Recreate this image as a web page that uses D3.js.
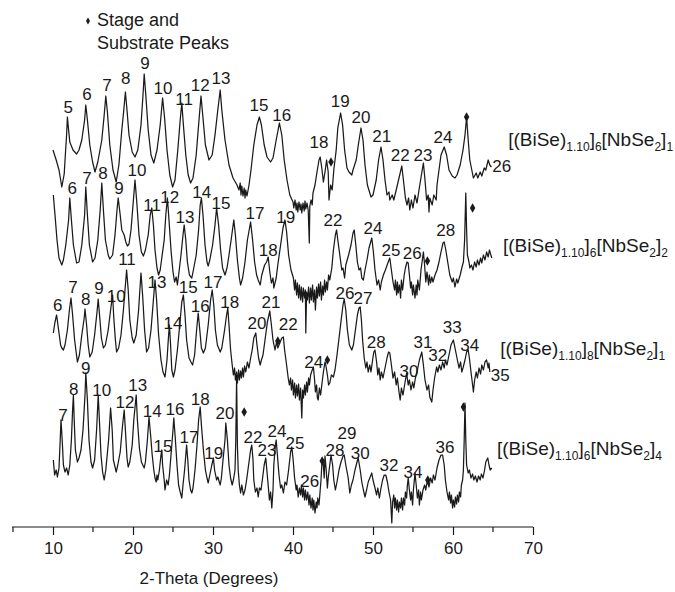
<!DOCTYPE html>
<html>
<head>
<meta charset="utf-8">
<script src="https://cdn.jsdelivr.net/npm/d3@7/dist/d3.min.js"></script>
<style>
  html, body { margin: 0; padding: 0; background: #fff; }
  svg { display: block; }
  text { font-family: "Liberation Sans", Arial, sans-serif; fill: #1a1a1a; }
</style>
</head>
<body>
<div id="chart"></div>
<script>
// X-ray diffraction scans of four (BiSe)1.10 / NbSe2 ferecrystals, stacked with offsets.
// Each scan is a list of [2-theta (deg), intensity (a.u.)] points.

const xTicksMajor = [10, 20, 30, 40, 50, 60, 70];
const xTicksMinor = [5, 15, 25, 35, 45, 55, 65];

// offsets (a.u.) used to stack the four scans
const scanOffsets = [135, 90, 50, 0];

// stacking numbers m and n in [(BiSe)1.10]m[NbSe2]n
const biseLayers = ["6", "6", "8", "6"];
const nbseLayers = ["1", "2", "1", "4"];

const scanA = [[10.0,50],[10.4,45],[10.75,40],[11.1,31.5],[11.4,38],[11.55,48],[11.7,57.5],[11.8,66.5],[11.95,60],[12.1,54],[12.5,50],[12.95,48],[13.25,50],[13.6,55],[13.95,65],[14.1,72.5],[14.3,65],[14.6,52.5],[14.95,44],[15.25,39],[15.6,44],[16.1,55],[16.4,67.5],[16.6,77],[16.8,69],[17.1,52.5],[17.5,40],[17.9,34],[18.25,43],[18.6,60],[18.85,70],[19.05,79],[19.25,70],[19.5,57.5],[19.9,49],[20.25,46.5],[20.6,50],[21.0,62.5],[21.25,77.5],[21.4,88],[21.6,77.5],[21.9,60],[22.25,47.5],[22.6,43.5],[23.0,50],[23.4,62.5],[23.7,76],[23.95,66],[24.25,50],[24.6,37.5],[24.95,31.5],[25.25,35],[25.6,50],[25.9,65],[26.1,73.5],[26.3,62.5],[26.6,47.5],[26.9,37.5],[27.2,33.5],[27.5,36],[27.9,47.5],[28.25,65],[28.5,77],[28.75,66],[29.05,52.5],[29.5,45],[29.9,47.5],[30.25,57.5],[30.6,70],[30.9,80],[31.1,70],[31.5,55],[32.0,42.5],[32.5,36],[33.0,32.5],[33.25,30],[33.4,33.5],[33.5,27.5],[33.6,32],[33.75,27],[33.9,31],[34.0,26],[34.1,30],[34.25,27],[34.5,32.5],[34.75,40],[35.1,52.5],[35.5,62.5],[35.8,66.5],[36.05,62.5],[36.4,52.5],[36.75,46.5],[37.2,44],[37.5,46],[37.9,55],[38.3,63.5],[38.6,57.5],[38.9,45],[39.25,35],[39.6,27.5],[40.0,24],[40.1,21],[40.25,25],[40.4,20],[40.5,23.5],[40.6,19],[40.75,24],[40.9,20],[41.0,23],[41.1,18.5],[41.25,23.5],[41.4,19.5],[41.5,24.5],[41.6,20.5],[41.75,23.5],[41.9,20],[42.04,3.5],[42.1,22],[42.25,25],[42.4,22.5],[42.5,28.5],[42.75,32.5],[43.0,39],[43.25,45],[43.4,46.5],[43.6,41],[43.8,34],[44.0,39],[44.2,45],[44.4,39],[44.5,25],[44.7,32.5],[44.9,30],[45.1,40],[45.4,50],[45.6,61],[45.95,68.5],[46.2,62.5],[46.45,50],[46.75,41],[47.0,39],[47.35,37.5],[47.5,40],[47.9,45],[48.2,53.5],[48.5,61],[48.75,55],[49.0,42.5],[49.3,32.5],[49.75,26.5],[50.0,27.5],[50.4,35],[50.7,45],[51.0,51.5],[51.25,45],[51.5,35],[51.75,27.5],[52.0,29],[52.1,25],[52.4,27.5],[52.6,25],[52.9,30],[53.25,36],[53.6,42],[53.8,35],[54.05,26],[54.25,22.5],[54.45,26],[54.6,20],[54.8,25],[55.0,21],[55.25,27.5],[55.5,23.5],[55.75,30],[56.05,37.5],[56.3,43.5],[56.5,35],[56.7,25],[56.9,27.5],[57.0,19],[57.1,26],[57.4,22.5],[57.6,27.5],[57.9,25],[58.0,32.5],[58.25,40],[58.5,47.5],[58.9,51.5],[59.2,47.5],[59.5,40],[59.9,37],[60.25,36],[60.5,37.5],[60.9,42.5],[61.25,50],[61.5,57.5],[61.7,66.5],[61.9,55],[62.1,45],[62.55,36],[62.9,38.5],[63.1,36],[63.4,39],[63.6,37],[63.9,41],[64.1,40],[64.4,45],[64.6,42.5],[64.8,41.5]];

const scanB = [[10.04,72.5],[10.25,62.5],[10.5,50],[10.75,41],[11.1,37.5],[11.3,40],[11.6,47.5],[11.95,60],[12.1,71],[12.3,60],[12.55,47.5],[12.95,38.5],[13.25,39],[13.6,47.5],[13.95,62.5],[14.1,76.5],[14.3,62.5],[14.55,47.5],[14.95,39],[15.25,41],[15.6,50],[15.9,65],[16.1,78.5],[16.3,65],[16.55,50],[16.9,42.5],[17.1,40.5],[17.45,42.5],[17.75,52.5],[18.0,65],[18.15,71],[18.4,62.5],[18.6,55],[18.9,52.5],[19.1,49],[19.3,47],[19.5,48],[19.75,55],[20.0,67.5],[20.25,80],[20.5,67.5],[20.75,52.5],[21.05,44],[21.3,42],[21.55,45],[21.9,52.5],[22.15,62.5],[22.35,66],[22.55,57.5],[22.75,45],[23.0,36],[23.2,32.5],[23.4,35],[23.6,41],[23.9,50],[24.1,62.5],[24.3,71],[24.5,60],[24.75,45],[25.0,34],[25.2,29],[25.4,31.5],[25.55,27.5],[25.75,34],[26.0,42.5],[26.25,52.5],[26.4,57.5],[26.6,50],[26.8,39],[27.05,32.5],[27.35,31],[27.55,35],[27.9,42.5],[28.2,55],[28.4,67.5],[28.55,71],[28.75,62.5],[29.0,47.5],[29.25,39],[29.4,37],[29.6,40],[29.95,47.5],[30.25,57.5],[30.45,66],[30.7,57.5],[30.95,45],[31.2,36],[31.5,32.5],[31.75,36],[32.0,42.5],[32.3,51],[32.6,60],[32.8,52.5],[33.05,40],[33.3,31],[33.45,27.5],[33.7,31],[34.0,39],[34.3,50],[34.7,59],[34.95,50],[35.2,39],[35.45,32.5],[35.65,30],[35.9,27.5],[36.1,32.5],[36.45,37.5],[36.7,39],[36.9,41.5],[37.1,34],[37.3,28.5],[37.5,31],[37.6,26],[37.9,31],[38.1,37.5],[38.45,47.5],[38.75,56],[39.0,60],[39.2,54],[39.45,42.5],[39.75,35],[40.05,31],[40.2,25],[40.3,30],[40.45,22.5],[40.55,28.5],[40.7,21],[40.8,27.5],[40.95,20],[41.05,26.5],[41.2,19],[41.3,26],[41.45,21],[41.55,25],[41.6,3.5],[41.7,24],[41.8,20],[41.95,26.5],[42.05,18.5],[42.2,26],[42.3,20],[42.45,27.5],[42.55,19],[42.7,25],[42.8,15],[42.95,26.5],[43.05,21],[43.2,28],[43.3,22],[43.45,29],[43.55,20],[43.7,27],[43.8,22.5],[43.95,30],[44.05,24],[44.2,29],[44.3,25],[44.45,32.5],[44.6,30],[44.85,36],[45.05,45],[45.3,52.5],[45.45,55],[45.6,50],[45.9,41],[46.1,35],[46.25,36],[46.45,31],[46.6,37.5],[46.95,42.5],[47.25,47.5],[47.5,53.5],[47.65,55],[47.85,47.5],[48.05,39],[48.25,35],[48.45,36],[48.6,31],[48.8,30],[49.0,35],[49.25,40],[49.5,46],[49.85,51],[50.05,44],[50.25,35],[50.5,27.5],[50.7,30],[50.9,25],[51.05,29],[51.3,32.5],[51.55,35],[51.9,39],[52.1,41],[52.3,35],[52.5,29],[52.7,25],[52.8,30],[52.95,22.5],[53.05,29],[53.15,23.5],[53.3,27.5],[53.45,21],[53.55,30],[53.7,25],[53.9,32.5],[54.05,36],[54.25,39],[54.4,38.5],[54.55,32.5],[54.7,26],[54.8,29],[54.95,22.5],[55.05,27.5],[55.25,21],[55.4,27.5],[55.5,22.5],[55.6,30],[55.8,25],[56.0,35],[56.2,41],[56.3,44],[56.45,37.5],[56.6,29],[56.75,34],[56.95,27.5],[57.05,32.5],[57.2,28.5],[57.35,31.5],[57.5,29],[57.75,32.5],[58.0,35],[58.25,39],[58.5,44],[58.75,48.5],[58.9,49],[59.1,45],[59.4,37.5],[59.6,32.5],[59.9,29],[60.05,31],[60.25,26.5],[60.45,30.5],[60.6,28.5],[60.9,32.5],[61.1,36],[61.3,39],[61.45,50],[61.6,73.5],[61.7,55],[61.8,42.5],[62.0,39],[62.1,36],[62.3,37.5],[62.5,35],[62.7,39],[62.9,36.5],[63.05,40],[63.25,37.5],[63.45,41],[63.6,38.5],[63.8,42.5],[64.0,40],[64.2,44],[64.4,41.5],[64.55,45],[64.85,41]];

const scanC = [[10.04,43.5],[10.25,49],[10.45,52.5],[10.7,45],[10.95,37.5],[11.1,36],[11.3,35],[11.5,37.5],[11.8,45],[12.05,55],[12.25,61],[12.45,52.5],[12.7,40],[13.05,29],[13.3,32.5],[13.6,42.5],[13.9,51],[14.0,55.5],[14.2,47.5],[14.4,37.5],[14.6,31.5],[14.9,34],[15.2,42.5],[15.5,54],[15.65,60.5],[15.85,51],[16.05,41],[16.3,36],[16.55,37.5],[16.9,45],[17.2,55],[17.45,62.5],[17.6,51],[17.8,40],[17.95,34],[18.2,36],[18.5,42.5],[18.8,55],[19.05,67.5],[19.2,75],[19.4,65],[19.6,50],[19.9,41],[20.1,38.5],[20.4,42.5],[20.7,55],[20.9,67.5],[21.0,73.5],[21.2,62.5],[21.45,45],[21.7,34],[21.95,36],[22.25,45],[22.55,60],[22.75,70],[22.95,60],[23.2,42.5],[23.5,30],[23.75,24],[24.0,21.5],[24.25,30],[24.45,42.5],[24.55,47.5],[24.7,37.5],[24.85,25],[25.05,21.5],[25.25,25],[25.55,35],[25.9,50],[26.1,59],[26.3,62.5],[26.5,52.5],[26.7,40],[27.0,31],[27.25,29],[27.45,27.5],[27.7,32.5],[27.95,45],[28.15,53.5],[28.35,45],[28.55,36],[28.8,33.5],[29.05,36],[29.4,47.5],[29.7,60],[29.9,65],[30.1,57.5],[30.3,45],[30.55,37.5],[30.9,34],[31.1,36],[31.45,45],[31.7,52.5],[31.85,56],[32.0,47.5],[32.2,35],[32.4,27.5],[32.55,22.5],[32.7,26],[32.8,20],[32.95,24],[33.05,18.5],[33.2,25],[33.3,20],[33.45,24.5],[33.55,21],[33.7,26],[33.8,21.5],[33.95,27],[34.1,24],[34.3,29],[34.5,26],[34.7,31],[34.9,35],[35.1,41],[35.35,43.5],[35.5,37.5],[35.7,31],[35.9,27.5],[36.05,30],[36.25,32.5],[36.5,40],[36.8,49],[37.1,54.5],[37.3,47.5],[37.5,40],[37.75,35],[37.95,39],[38.1,36],[38.4,39],[38.6,41],[38.8,41.5],[38.95,35],[39.2,27.5],[39.4,21],[39.55,17.5],[39.7,21],[39.8,15],[39.95,20],[40.05,12.5],[40.2,18.5],[40.3,11],[40.45,17.5],[40.55,12],[40.7,18],[40.8,10],[40.95,16],[41.1,1],[41.2,15],[41.3,11],[41.45,17.5],[41.55,12.5],[41.7,19],[41.8,14],[41.95,21],[42.05,17.5],[42.2,22.5],[42.4,25],[42.55,26.5],[42.7,20],[42.8,14],[42.95,17.5],[43.05,11],[43.15,10],[43.3,16],[43.45,12.5],[43.6,17.5],[43.8,24],[44.0,29],[44.1,27.5],[44.3,22.5],[44.45,17.5],[44.6,18.5],[44.8,22.5],[45.05,21.5],[45.25,25],[45.5,32.5],[45.8,42.5],[46.05,51],[46.25,57.5],[46.4,60.5],[46.6,55],[46.8,45],[47.05,37.5],[47.35,35],[47.55,37.5],[47.8,45],[48.05,52.5],[48.25,56],[48.4,56.5],[48.55,50],[48.7,40],[48.9,31],[49.1,26],[49.25,29],[49.4,24],[49.6,27.5],[49.75,24],[49.95,30],[50.1,34],[50.25,35],[50.45,29],[50.6,22.5],[50.75,26],[50.9,20],[51.05,24],[51.25,21],[51.5,26],[51.75,31],[51.95,34],[52.1,33.5],[52.3,27.5],[52.5,21],[52.7,24],[52.9,17.5],[53.05,21],[53.25,14],[53.4,10],[53.55,16],[53.75,12.5],[53.95,17.5],[54.2,23.5],[54.4,17.5],[54.55,20],[54.75,15],[54.95,19],[55.1,16],[55.3,21],[55.55,25],[55.8,30],[56.1,34],[56.3,27.5],[56.5,20],[56.75,15],[56.95,17.5],[57.1,11.5],[57.35,9],[57.5,15],[57.7,21],[57.95,26.5],[58.1,24],[58.3,27.5],[58.5,25],[58.7,29],[58.9,26],[59.05,30],[59.25,27.5],[59.5,32.5],[59.75,37.5],[60.05,40],[60.25,36],[60.5,31],[60.75,26],[60.95,29],[61.1,24],[61.25,26],[61.5,30],[61.7,34],[61.9,35],[62.05,31],[62.25,24],[62.45,17.5],[62.55,14],[62.7,20],[62.9,24],[63.05,21],[63.25,26],[63.45,23],[63.6,27.5],[63.8,25],[64.0,29],[64.2,30],[64.4,26],[64.5,28.5],[64.6,24]];

const scanD = [[10.04,30],[10.2,22.5],[10.4,25],[10.55,21.5],[10.75,26],[10.9,40],[11.0,50],[11.15,40],[11.3,27.5],[11.5,24],[11.7,26],[11.9,22.5],[12.1,27.5],[12.3,40],[12.45,55],[12.55,62.5],[12.65,50],[12.8,35],[13.05,29],[13.25,31],[13.5,35],[13.75,45],[14.0,62.5],[14.1,73.5],[14.3,60],[14.5,40],[14.75,29],[14.95,26],[15.2,30],[15.45,45],[15.65,62.5],[15.8,50],[16.0,32.5],[16.2,24],[16.4,20],[16.6,25],[16.95,40],[17.2,56],[17.4,45],[17.55,30],[17.9,24],[18.1,27.5],[18.4,34],[18.7,47.5],[18.9,55],[19.05,45],[19.25,31],[19.4,26.5],[19.6,29],[19.9,37.5],[20.1,50],[20.4,62.5],[20.55,50],[20.8,36],[21.05,29],[21.4,26],[21.55,29],[21.8,40],[22.0,51.5],[22.2,42.5],[22.4,32.5],[22.6,25],[22.75,21],[22.9,19],[23.0,22.5],[23.1,20],[23.3,25],[23.5,32.5],[23.6,35],[23.7,27.5],[23.9,20],[24.0,15],[24.2,20],[24.4,17.5],[24.55,22.5],[24.8,35],[25.0,45],[25.1,51],[25.3,40],[25.5,27.5],[25.7,17.5],[25.9,14],[26.1,11],[26.25,17.5],[26.45,25],[26.65,35],[26.7,37.5],[26.85,30],[27.0,20],[27.2,15],[27.35,13.5],[27.5,16],[27.75,25],[28.0,37.5],[28.2,50],[28.4,56.5],[28.55,47.5],[28.8,35],[29.05,25],[29.25,21],[29.4,18.5],[29.6,22.5],[29.85,27.5],[30.05,31],[30.2,25],[30.45,20],[30.6,21.5],[30.9,17.5],[31.05,21],[31.25,30],[31.5,40],[31.6,48.5],[31.8,40],[32.0,27.5],[32.2,21],[32.4,17.5],[32.55,20],[32.75,25],[32.85,40],[32.95,71],[33.05,37.5],[33.15,25],[33.3,17.5],[33.45,13.5],[33.6,17.5],[33.8,12.5],[34.0,15],[34.2,20],[34.45,27.5],[34.7,35],[34.85,37.5],[35.0,30],[35.1,20],[35.3,14],[35.5,16],[35.65,11.5],[35.8,16],[36.0,15],[36.2,21],[36.4,27.5],[36.6,31],[36.75,24],[36.95,15],[37.05,10],[37.2,14],[37.35,6],[37.5,15],[37.6,27.5],[37.8,37.5],[37.9,40],[38.05,32.5],[38.25,22.5],[38.45,16],[38.6,17.5],[38.8,13.5],[39.0,19],[39.2,17.5],[39.45,25],[39.7,34],[39.85,36.5],[40.0,31],[40.2,21],[40.4,15],[40.5,17.5],[40.65,11.5],[40.8,16],[40.95,12.5],[41.05,17.5],[41.2,11.5],[41.3,16],[41.45,10],[41.55,15],[41.7,10],[41.85,14],[42.0,7.5],[42.1,12.5],[42.25,6],[42.4,11],[42.5,5],[42.6,10],[42.75,3.5],[42.9,9],[43.0,6],[43.1,11],[43.25,7.5],[43.4,15],[43.5,20],[43.6,27.5],[43.75,30],[43.9,21],[44.0,32],[44.15,25],[44.3,16],[44.4,21],[44.55,26],[44.75,32.5],[44.95,27.5],[45.1,20],[45.3,15],[45.5,19],[45.75,25],[46.0,29],[46.25,32],[46.4,32.5],[46.6,27.5],[46.9,21],[47.1,13.5],[47.3,17.5],[47.5,20],[47.75,25],[48.0,29],[48.15,31],[48.4,25],[48.6,19],[48.8,15],[49.0,11.5],[49.2,15],[49.4,19],[49.6,21],[49.85,23.5],[50.0,20],[50.25,16],[50.45,12.5],[50.6,16],[50.8,11],[51.0,16],[51.2,20],[51.4,22.5],[51.6,22.5],[51.8,19],[52.0,14],[52.2,10],[52.35,-1.5],[52.45,9],[52.6,12.5],[52.7,6],[52.8,11],[52.95,5],[53.05,10],[53.2,4],[53.3,9],[53.45,6],[53.55,11],[53.7,5],[53.8,11],[53.95,7.5],[54.05,14],[54.2,11],[54.3,17.5],[54.4,21],[54.55,15],[54.7,10],[54.8,14],[54.95,7.5],[55.05,15],[55.25,23.5],[55.4,17.5],[55.55,11],[55.7,15],[55.8,7.5],[55.95,14],[56.05,10],[56.25,15],[56.45,17.5],[56.6,15],[56.8,20],[57.0,16.5],[57.2,21],[57.4,18.5],[57.55,22.5],[57.75,20],[58.0,26],[58.25,30],[58.5,32.5],[58.7,32.5],[58.9,27.5],[59.05,20],[59.25,14],[59.45,10],[59.55,14],[59.7,8.5],[59.8,12.5],[59.95,6],[60.05,10],[60.2,6.5],[60.3,11.5],[60.45,8],[60.55,12.5],[60.7,9],[60.8,14],[60.95,11.5],[61.05,17.5],[61.2,20],[61.3,25],[61.4,40],[61.5,58.5],[61.6,40],[61.7,27.5],[61.9,23.5],[62.05,25],[62.25,21],[62.45,23],[62.6,20],[62.8,22],[63.0,19],[63.2,22],[63.4,20],[63.55,23],[63.75,21],[63.95,25],[64.1,29],[64.35,31],[64.5,27.5],[64.65,25],[64.85,26]];

// (00l) reflection indices: [label, 2-theta, height above scan offset]
const peaksA = [["5",11.9,71.5],["6",14.25,78],["7",16.75,82.5],["8",19.1,86],["9",21.5,93.5],["10",23.75,81],["11",26.4,75.5],["12",28.4,82.5],["13",31.0,86],["15",35.75,72.5],["16",38.6,67.5],["18",43.25,54],["19",45.9,74.5],["20",48.5,66.5],["21",51.1,57],["22",53.4,47.5],["23",56.25,47.5],["24",58.75,56.5],["26",66.1,42]];
const peaksB = [["6",12.4,76],["7",14.25,81],["8",16.25,83.5],["9",18.25,76],["10",20.5,85],["11",22.4,67.5],["12",24.6,71.5],["13",26.5,61.5],["14",28.6,74],["15",31.0,68.5],["17",35.25,63.5],["18",36.9,45],["19",39.1,61.5],["22",45.0,60],["24",50.0,56],["25",52.25,45],["26",54.9,43.5],["28",59.1,55]];
const peaksC = [["6",10.6,57.5],["7",12.5,66.5],["8",14.1,60.5],["9",15.75,66],["10",17.9,62],["11",19.25,80.5],["13",23.0,69],["14",25.0,48.5],["15",26.9,66.5],["16",28.4,57],["17",30.0,69],["18",32.1,59],["20",35.5,48.5],["21",37.25,59],["22",39.4,48],["24",42.6,29],["26",46.5,63.5],["27",48.75,61],["28",50.4,39],["30",54.5,24.5],["31",56.25,39],["32",58.1,32.5],["33",59.9,46.5],["34",62.1,37.5],["35",65.9,22.5]];
const peaksD = [["7",11.25,52.5],["8",12.6,65.5],["9",14.1,76],["10",16.1,65],["12",19.0,59],["13",20.6,67.5],["14",22.4,54.5],["15",23.75,37],["16",25.25,55.5],["17",27.0,41.5],["18",28.4,60.5],["19",30.1,33.5],["20",31.5,53.5],["22",35.0,41.5],["23",36.75,35],["24",38.0,44.5],["25",40.25,38.5],["26",42.1,19.5],["28",45.25,35],["29",46.75,43.5],["30",48.4,33.5],["32",52.0,27.5],["34",55.0,24],["36",59.0,36.5]];

// stage and substrate reflections: [2-theta, height above scan offset]
const stageA = [[44.75,44],[61.7,66.5]];
const stageB = [[56.8,39.5],[62.45,66]];
const stageC = [[38.1,39.5],[44.3,30]];
const stageD = [[33.9,54],[43.65,29.5],[56.85,20],[61.3,56.5]];

const scans = [scanA, scanB, scanC, scanD];
const peakSets = [peaksA, peaksB, peaksC, peaksD];
const stageSets = [stageA, stageB, stageC, stageD];

const width = 675, height = 592;
const svg = d3.select("#chart").append("svg")
  .attr("width", width).attr("height", height);

const x = d3.scaleLinear().domain([5, 70]).range([13, 533]);
const y = d3.scaleLinear().domain([0, 260]).range([520, 0]);

const ink = "#1a1a1a";

// axis
const axisY = 527;
const gAxis = svg.append("g").attr("transform", `translate(0,${axisY})`);
gAxis.call(d3.axisBottom(x).tickValues(xTicksMajor).tickSize(8).tickPadding(7).tickFormat(d3.format("d")))
  .call(g => g.select(".domain").attr("d", `M${x(5) - 1},0H${x(70)}`).attr("stroke", ink).attr("stroke-width", 1.2))
  .call(g => g.selectAll(".tick line").attr("stroke", ink).attr("stroke-width", 1.2))
  .call(g => g.selectAll(".tick text").attr("font-size", 17).attr("fill", ink)
    .attr("font-family", "'Liberation Sans', Arial, sans-serif"));
gAxis.selectAll(".minor").data(xTicksMinor).join("line")
  .attr("class", "minor")
  .attr("x1", d => x(d)).attr("x2", d => x(d))
  .attr("y1", 0).attr("y2", 5)
  .attr("stroke", ink).attr("stroke-width", 1.2);

svg.append("text")
  .attr("x", x(29.5)).attr("y", 578)
  .attr("text-anchor", "middle").attr("dominant-baseline", "central")
  .attr("font-size", 17)
  .text("2-Theta (Degrees)");

// scans
const line = d3.line().x(d => x(d[0])).y(d => y(d[1]));
const diamond = d3.symbol(d3.symbolDiamond, 26);

scans.forEach((scan, i) => {
  const off = scanOffsets[i];
  const g = svg.append("g");
  g.append("path")
    .datum(scan.map(p => [p[0], p[1] + off]))
    .attr("d", line)
    .attr("fill", "none")
    .attr("stroke", ink)
    .attr("stroke-width", 1.25)
    .attr("stroke-linejoin", "round");

  g.selectAll("text.peak").data(peakSets[i]).join("text")
    .attr("class", "peak")
    .attr("x", d => x(d[1])).attr("y", d => y(d[2] + off))
    .attr("text-anchor", "middle").attr("dominant-baseline", "central")
    .attr("font-size", 17)
    .text(d => d[0]);

  g.selectAll("path.stage").data(stageSets[i]).join("path")
    .attr("class", "stage")
    .attr("d", diamond)
    .attr("transform", d => `translate(${x(d[0])},${y(d[1] + off)})`)
    .attr("fill", ink);
});

// sample names [(BiSe)1.10]m[NbSe2]n, placed to the right of each scan
const nameAnchors = [[66.9, 52], [66.25, 44], [65.9, 32.5], [65.5, 32.5]];
nameAnchors.forEach((a, i) => {
  const t = svg.append("text")
    .attr("x", x(a[0])).attr("y", y(a[1] + scanOffsets[i]))
    .attr("font-size", 19);
  const parts = [["[(BiSe)", false], ["1.10", true], ["]", false], [biseLayers[i], true],
                 ["[NbSe", false], ["2", true], ["]", false], [nbseLayers[i], true]];
  let shifted = false;
  parts.forEach(([s, sub]) => {
    const dy = sub === shifted ? 0 : (sub ? 5 : -5);
    shifted = sub;
    t.append("tspan").attr("dy", dy).attr("font-size", sub ? 12 : 19).text(s);
  });
});

// legend
svg.append("path")
  .attr("d", d3.symbol(d3.symbolDiamond, 14))
  .attr("transform", "translate(88,21)")
  .attr("fill", ink);
svg.append("text").attr("x", 97).attr("y", 20).attr("dominant-baseline", "central")
  .attr("font-size", 18).text("Stage and");
svg.append("text").attr("x", 97).attr("y", 43).attr("dominant-baseline", "central")
  .attr("font-size", 18).text("Substrate Peaks");
</script>
</body>
</html>
